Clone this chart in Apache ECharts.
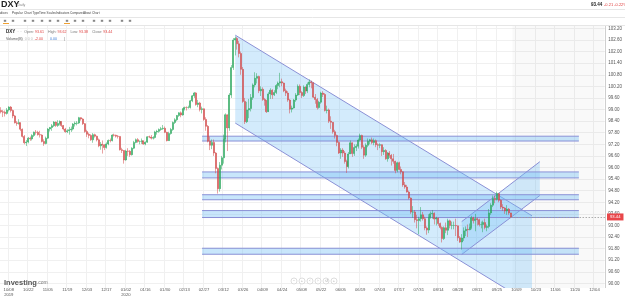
<!DOCTYPE html>
<html>
<head>
<meta charset="utf-8">
<title>DXY Daily</title>
<script src="https://cdn.jsdelivr.net/npm/echarts@6/dist/echarts.min.js"></script>
<style>
  html, body { margin: 0; padding: 0; background: #fff; }
  #chart { width: 625px; height: 297px; }
</style>
</head>
<body>
<div id="chart"></div>
<script>
// DXY daily candles, rows are [close, high, low]; open is taken as previous close
const firstOpen = 98.95;
const oct19 = [[98.88,99.12,98.80],[98.86,98.98,98.61],[98.80,98.95,98.64],[98.98,99.08,98.74],[99.13,99.17,98.90],[98.95,99.18,98.85],[98.67,99.00,98.55],[98.31,98.72,98.28],[98.28,98.40,98.16],[98.32,98.50,98.22],[97.98,98.30,97.88],[97.61,98.02,97.55],[97.28,97.68,97.20],[97.32,97.42,97.11],[97.52,97.58,97.25],[97.48,97.60,97.38],[97.66,97.72,97.40],[97.83,97.86,97.58],[97.82,97.94,97.70],[97.70,97.90,97.65],[97.68,97.90,97.55],[97.35,97.72,97.30]];
const nov19 = [[97.24,97.46,97.12],[97.52,97.60,97.20],[97.99,98.04,97.48],[98.07,98.10,97.86],[98.16,98.25,97.90],[98.35,98.40,98.10],[98.18,98.38,98.10],[98.28,98.45,98.10],[98.38,98.44,98.18],[98.17,98.40,98.10],[97.99,98.20,97.92],[97.85,98.05,97.80],[97.90,97.98,97.78],[97.95,98.10,97.70],[97.99,98.12,97.84],[98.25,98.30,97.92],[98.29,98.38,98.12],[98.30,98.40,98.18],[98.58,98.62,98.25],[98.51,98.60,98.42],[98.27,98.55,98.20]];
const dec19 = [[97.86,98.30,97.80],[97.72,97.95,97.58],[97.66,97.80,97.51],[97.43,97.72,97.38],[97.70,97.78,97.28],[97.62,97.75,97.55],[97.43,97.65,97.35],[97.12,97.50,97.05],[97.20,97.32,96.92],[97.18,97.40,96.72],[97.03,97.20,96.90],[97.22,97.30,96.98],[97.40,97.45,97.15],[97.39,97.50,97.30],[97.68,97.72,97.35],[97.67,97.75,97.60],[97.62,97.70,97.55],[97.61,97.68,97.50],[96.92,97.60,96.88],[96.88,97.02,96.75],[96.39,96.90,96.20]];
const jan20 = [[96.85,96.92,96.35],[96.84,97.00,96.60],[96.66,96.90,96.55],[97.00,97.05,96.62],[97.30,97.38,96.95],[97.44,97.50,97.25],[97.35,97.52,97.28],[97.35,97.40,97.20],[97.38,97.50,97.22],[97.21,97.40,97.18],[97.31,97.35,97.15],[97.59,97.62,97.28],[97.58,97.65,97.52],[97.52,97.68,97.45],[97.55,97.62,97.45],[97.84,97.90,97.50],[97.87,97.95,97.70],[97.97,98.02,97.80],[98.01,98.10,97.90],[98.03,98.20,97.95],[97.82,98.12,97.78],[97.39,97.85,97.35]];
const feb20 = [[97.76,97.85,97.38],[97.97,98.05,97.70],[98.33,98.38,97.90],[98.47,98.55,98.25],[98.69,98.72,98.40],[98.83,98.86,98.62],[98.72,98.90,98.60],[99.03,99.08,98.68],[99.11,99.15,98.95],[99.10,99.16,98.95],[99.11,99.20,99.05],[99.45,99.50,99.05],[99.71,99.75,99.38],[99.86,99.91,99.60],[99.26,99.90,99.20],[99.34,99.50,99.12],[99.00,99.40,98.90],[99.04,99.15,98.80],[98.49,99.05,98.42],[98.13,98.60,97.90]];
const mar20 = [[97.36,98.20,97.30],[97.15,97.60,96.90],[97.30,97.45,96.95],[96.75,97.45,96.60],[95.95,96.80,95.70],[94.90,96.00,94.65],[96.12,96.28,94.75],[96.50,96.60,95.90],[97.48,97.70,96.20],[98.73,98.80,97.30],[98.05,98.70,96.85],[99.75,99.85,97.90],[101.17,101.30,99.60],[102.60,102.70,101.05],[102.68,102.78,101.80],[102.40,102.75,102.10],[101.90,102.55,101.70],[101.08,102.00,100.80],[99.42,101.20,99.35],[98.37,99.60,98.25],[98.98,99.40,98.30],[99.05,99.55,98.55]];
const apr20 = [[99.62,99.80,98.90],[100.27,100.35,99.50],[100.62,100.93,100.15],[100.71,100.88,100.35],[99.97,100.75,99.85],[100.05,100.20,99.70],[99.52,100.15,99.45],[99.47,99.60,99.20],[98.89,99.50,98.82],[99.81,99.90,98.95],[100.00,100.10,99.55],[99.76,100.05,99.55],[99.88,100.00,99.70],[100.24,100.32,99.80],[100.37,100.45,100.05],[100.44,100.90,100.15],[100.37,100.60,100.20],[99.97,100.40,99.90],[99.85,100.08,99.70],[99.49,99.95,99.40],[99.02,99.55,98.80]];
const may20 = [[99.08,99.20,98.85],[99.49,99.55,99.05],[99.75,99.85,99.40],[100.20,100.30,99.70],[99.88,100.30,99.75],[99.72,99.95,99.60],[100.16,100.25,99.65],[99.96,100.20,99.80],[100.30,100.40,99.85],[100.43,100.56,100.15],[100.39,100.50,100.10],[99.64,100.40,99.60],[99.52,99.80,99.30],[99.10,99.60,99.00],[99.38,99.45,99.05],[99.85,99.92,99.30],[99.78,99.95,99.65],[98.95,99.85,98.90],[98.98,99.20,98.80],[98.40,99.05,98.30],[98.34,98.65,98.00]];
const jun20 = [[97.85,98.35,97.75],[97.66,97.95,97.50],[97.30,97.70,97.10],[96.75,97.35,96.70],[96.90,97.00,96.45],[96.75,97.00,96.55],[96.31,96.85,96.20],[96.05,96.40,95.72],[96.70,96.80,95.95],[97.28,97.40,96.70],[96.72,97.30,96.55],[97.03,97.20,96.60],[97.10,97.20,96.85],[97.42,97.50,96.98],[97.66,97.75,97.35],[97.05,97.70,96.95],[96.64,97.15,96.45],[97.15,97.25,96.55],[97.36,97.50,97.05],[97.43,97.48,97.20],[97.29,97.55,97.20],[97.39,97.50,97.15]];
const jul20 = [[97.18,97.45,97.05],[97.15,97.25,96.90],[97.18,97.25,97.00],[96.82,97.20,96.60],[96.88,97.05,96.65],[96.45,96.95,96.40],[96.75,96.80,96.30],[96.63,96.85,96.50],[96.45,96.70,96.10],[96.32,96.70,96.20],[95.85,96.35,95.70],[96.25,96.30,95.75],[95.90,96.30,95.85],[95.78,96.05,95.65],[95.10,95.80,95.00],[94.99,95.25,94.90],[94.73,95.10,94.70],[94.42,94.80,94.35],[93.69,94.45,93.60],[93.70,94.00,93.40],[93.30,93.80,93.15],[93.25,93.55,92.85],[93.35,93.45,92.55]];
const aug20 = [[93.55,93.95,93.20],[93.35,93.70,93.25],[92.87,93.45,92.75],[92.76,92.95,92.52],[93.43,93.58,92.60],[93.60,93.72,93.35],[93.63,93.80,93.35],[93.33,93.68,93.05],[93.38,93.45,93.00],[93.10,93.40,92.98],[92.90,93.15,92.80],[92.32,92.95,92.12],[92.88,92.95,92.25],[92.75,93.15,92.60],[93.24,93.35,92.50],[93.00,93.30,92.85],[93.00,93.20,92.80],[93.00,93.20,92.80],[92.98,93.35,92.45],[92.36,93.00,92.20],[92.14,92.45,92.10]];
const sep20 = [[92.35,92.55,91.75],[92.72,92.90,92.20],[92.80,92.95,92.45],[92.78,93.05,92.40],[92.90,93.10,92.75],[93.40,93.50,92.80],[93.25,93.45,93.10],[93.35,93.60,92.70],[93.30,93.40,93.00],[93.05,93.35,92.95],[93.05,93.20,92.85],[93.15,93.25,92.65],[92.90,93.35,92.80],[92.95,93.05,92.70],[93.65,93.85,92.85],[94.05,94.15,93.55],[94.40,94.55,93.95],[94.35,94.55,94.15],[94.65,94.75,94.30],[94.30,94.65,94.20],[93.95,94.35,93.85],[93.90,94.10,93.75]];
const oct20 = [[93.75,93.95,93.60],[93.85,94.05,93.55],[93.65,93.90,93.55],[93.44,93.62,93.38]];

const lastPrice = 93.44;

// drawings, as [category index, price] corners: top-left, top-right, bottom-right, bottom-left
const fallChannel = [120, 102.85, 272, 93.5, 272, 88.9, 120, 98.3];
const riseChannel = [236, 93.2, 276, 96.3, 276, 94.55, 236, 91.5];
const zoneFrom = 103, zoneTo = 296;
const zones = [[97.62, 97.37], [95.77, 95.46], [94.59, 94.33], [93.77, 93.41], [91.82, 91.51]];

const skipDays = ['2019-12-25', '2020-01-01', '2020-04-10'];
function buildDays(start, count) {
  const out = [];
  const d = new Date(start + 'T00:00:00Z');
  while (out.length < count) {
    const wd = d.getUTCDay();
    const s = d.toISOString().slice(0, 10);
    if (wd !== 0 && wd !== 6 && skipDays.indexOf(s) < 0) out.push(s);
    d.setUTCDate(d.getUTCDate() + 1);
  }
  return out;
}
const days = buildDays('2019-10-02', 310);

const rows = [].concat(oct19, nov19, dec19, jan20, feb20, mar20, apr20, may20, jun20, jul20, aug20, sep20, oct20);
let prev = firstOpen;
const candles = rows.map(function (r) {
  const c = [prev, r[0], r[2], r[1]];
  prev = r[0];
  return c;
});
const lastIdx = candles.length - 1;

const shapes = [fallChannel, riseChannel].concat(zones.map(function (z) {
  return [zoneFrom, z[0], zoneTo, z[0], zoneTo, z[1], zoneFrom, z[1]];
}));

const blue = '#8a90d6';
function renderShape(params, api) {
  const p = [];
  for (let k = 0; k < 4; k++) p.push(api.coord([api.value(2 * k), api.value(2 * k + 1)]));
  const isZone = params.dataIndex >= 2;
  return {
    type: 'group',
    children: [
      { type: 'polygon', shape: { points: p }, style: { fill: isZone ? 'rgba(110,190,245,0.38)' : 'rgba(110,190,245,0.3)' } },
      { type: 'line', shape: { x1: p[0][0], y1: p[0][1], x2: p[1][0], y2: p[1][1] }, style: { stroke: blue, lineWidth: 1 } },
      { type: 'line', shape: { x1: p[3][0], y1: p[3][1], x2: p[2][0], y2: p[2][1] }, style: { stroke: blue, lineWidth: 1 } }
    ]
  };
}

function mmdd(v) {
  const p = v.split('-');
  return p[1] + '/' + p[2];
}

const chart = echarts.init(document.getElementById('chart'));
const tiny = { fontFamily: 'Arial, Liberation Sans, sans-serif' };
const menu = [['Indices', -2], ['Popular', 12], ['Chart Type', 24], ['Time Scales', 39], ['Indicators', 56], ['Compare', 70], ['About Chart', 83]];
const icons = [5, 13, 25, 33, 42, 50, 58, 67, 75, 83, 94, 102, 110, 122, 130];
const navBtns = [['−', 294], ['+', 302], ['‹', 310], ['›', 318], ['↺', 326], ['+', 334]];

const graphics = [
  { type: 'rect', z: 100, shape: { x: 0, y: 0, width: 625, height: 25.5 }, style: { fill: '#fff' } },
  { type: 'rect', z: 100, shape: { x: 0, y: 288, width: 607, height: 9 }, style: { fill: '#fff' } },
  { type: 'text', z: 101, x: 1, y: 0.5, style: Object.assign({ text: 'DXY', fontSize: 9, fontWeight: 'bold', fill: '#222' }, tiny) },
  { type: 'text', z: 101, x: 17.5, y: 3.5, style: Object.assign({ text: 'Daily', fontSize: 3.5, fill: '#888' }, tiny) },
  { type: 'line', z: 101, shape: { x1: 0, y1: 9.5, x2: 625, y2: 9.5 }, style: { stroke: '#e6e6e6' } },
  { type: 'line', z: 101, shape: { x1: 0, y1: 17.5, x2: 625, y2: 17.5 }, style: { stroke: '#e6e6e6' } },
  { type: 'line', z: 101, shape: { x1: 0, y1: 25.5, x2: 625, y2: 25.5 }, style: { stroke: '#e6e6e6' } },
  { type: 'text', z: 101, x: 591, y: 2.5, style: Object.assign({ text: '93.44', fontSize: 4.5, fontWeight: 'bold', fill: '#222' }, tiny) },
  { type: 'text', z: 101, x: 604, y: 2.5, style: Object.assign({ text: '-0.21 -0.22%', fontSize: 4, fill: '#e0403f' }, tiny) },
  { type: 'rect', z: 101, shape: { x: 3, y: 23, width: 6, height: 1 }, style: { fill: '#f0a030' } },
  { type: 'rect', z: 101, shape: { x: 64, y: 23, width: 6, height: 1 }, style: { fill: '#f0a030' } },
  // legend rows
  { type: 'text', z: 101, x: 6, y: 29.5, style: Object.assign({ text: 'DXY', fontSize: 4.5, fontWeight: 'bold', fill: '#222' }, tiny) },
  { type: 'text', z: 101, x: 16.5, y: 30, style: Object.assign({ text: '{g|·· ··}  {l|Open:} {v|93.61}    {l|High:} {v|93.62}    {l|Low:} {v|93.38}    {l|Close:} {v|93.44}', fontSize: 3.6, rich: { g: { fill: '#bbb', fontSize: 3.6 }, l: { fill: '#777', fontSize: 3.6 }, v: { fill: '#e0403f', fontSize: 3.6 } } }, tiny) },
  { type: 'text', z: 101, x: 6, y: 36.5, style: Object.assign({ text: '{l|Volume(B)}  {g|0 0 0}  {v|-2.00}       {b|0.00}       {l||}', fontSize: 3.6, rich: { l: { fill: '#555', fontSize: 3.6 }, g: { fill: '#bbb', fontSize: 3.6 }, v: { fill: '#e0403f', fontSize: 3.6 }, b: { fill: '#3a7bd5', fontSize: 3.6 } } }, tiny) },
  // logo
  { type: 'text', z: 101, x: 4, y: 279, style: Object.assign({ text: '{a|Investing}{b|.com}', rich: { a: { fontSize: 7.5, fontWeight: 'bold', fill: '#555' }, b: { fontSize: 5, fill: '#777' } } }, tiny) }
];
menu.forEach(function (m) {
  graphics.push({ type: 'text', z: 101, x: m[1], y: 12, style: Object.assign({ text: m[0], fontSize: 3.1, fill: '#444' }, tiny) });
});
icons.forEach(function (x) {
  graphics.push({ type: 'rect', z: 101, shape: { x: x - 1.2, y: 19.8, width: 2.4, height: 2 }, style: { fill: '#888' } });
});
navBtns.forEach(function (b) {
  graphics.push({ type: 'circle', z: 101, shape: { cx: b[1], cy: 281, r: 3 }, style: { fill: '#fff', stroke: '#d0d0d0', lineWidth: 0.7 } });
  graphics.push({ type: 'text', z: 102, x: b[1], y: 281, style: Object.assign({ text: b[0], fontSize: 4, fill: '#aaa', align: 'center', verticalAlign: 'middle' }, tiny) });
});

const option = {
  animation: false,
  backgroundColor: '#fff',
  grid: { left: 0, right: 19, top: 16.8, bottom: 0 },
  xAxis: [
    {
      type: 'category', data: days, boundaryGap: true, z: 200,
      axisLine: { show: false }, axisTick: { show: false }, splitLine: { show: false },
      axisLabel: {
        inside: true, margin: 8, verticalAlign: 'top', fontSize: 4.2, lineHeight: 5, color: '#555',
        interval: function (i) { return i % 10 === 4; },
        formatter: function (v, i) {
          if (i === 4 || (i >= 14 && days[i - 10].slice(0, 4) !== v.slice(0, 4))) return mmdd(v) + '\n' + v.slice(0, 4);
          return mmdd(v);
        }
      }
    },
    {
      type: 'category', data: days, position: 'top', boundaryGap: true,
      axisLine: { show: false }, axisTick: { show: false }, axisLabel: { show: false },
      splitLine: { show: true, interval: function (i) { return i % 10 === 4; }, lineStyle: { color: '#f0f0f0' } }
    }
  ],
  yAxis: {
    type: 'value', position: 'right', min: 89.4, max: 103.8, interval: 0.6,
    axisLine: { show: true, lineStyle: { color: '#cfcfcf' } },
    axisTick: { show: false },
    axisLabel: { fontSize: 4.5, color: '#555', margin: 3, showMinLabel: false, showMaxLabel: false, formatter: function (v) { return v.toFixed(2); } },
    splitLine: { lineStyle: { color: '#f0f0f0' } }
  },
  series: [
    {
      type: 'custom', z: 1, clip: true,
      renderItem: renderShape,
      encode: { x: [0, 2, 4, 6], y: [1, 3, 5, 7] },
      data: shapes
    },
    {
      type: 'candlestick', z: 3, barWidth: 1.5,
      data: candles,
      itemStyle: { color: '#26a65b', color0: '#d24646', borderColor: '#26a65b', borderColor0: '#d24646', borderWidth: 0.5 },
      markArea: {
        silent: true,
        itemStyle: { color: 'rgba(0,0,0,0.025)' },
        data: [[{ xAxis: days[lastIdx + 1] }, { xAxis: days[days.length - 1] }]]
      },
      markLine: {
        silent: true, symbol: 'none',
        lineStyle: { color: '#999', type: [1.5, 1.5], width: 0.8 },
        label: { position: 'end', distance: 1, formatter: lastPrice.toFixed(2), color: '#fff', backgroundColor: '#e8474a', fontSize: 4.2, padding: [1.5, 3] },
        data: [[{ coord: [lastIdx, lastPrice] }, { coord: [days.length - 1, lastPrice], x: 606 }]]
      }
    }
  ],
  graphic: graphics
};
chart.setOption(option);
</script>
</body>
</html>
